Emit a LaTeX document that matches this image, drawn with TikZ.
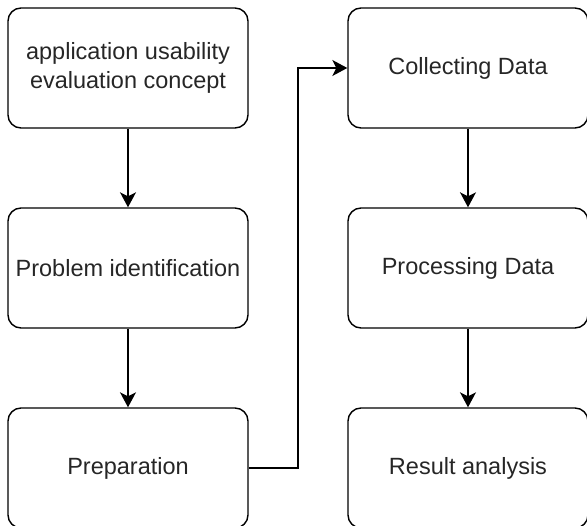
\documentclass[tikz,border=0pt]{standalone}
\usepackage{fontspec}
\setmainfont{Liberation Sans}
\usetikzlibrary{arrows.meta}
\begin{document}
\begin{tikzpicture}[x=1pt,y=1pt,
  box/.style={draw=black, line width=1.4pt, rounded corners=13pt, minimum width=240pt, minimum height=120pt, inner sep=0pt, align=center, font=\fontsize{23.5}{29}\selectfont, text=black!85},
  conn/.style={draw=black, line width=1.4pt, -{Stealth[length=15pt,width=16pt,inset=4pt]}}]
\useasboundingbox (0,0) rectangle (587,-526);
\clip (0,0) rectangle (587,-526);
\node[box] (concept) at (128,-68) {application usability\\evaluation concept};
\node[box] (problem) at (128,-268) {Problem identification};
\node[box] (prep) at (128,-468) {Preparation};
\node[box] (collect) at (468,-68) {Collecting Data};
\node[box] (process) at (468,-268) {Processing Data};
\node[box] (result) at (468,-468) {Result analysis};
\coordinate (bend) at (298,-468);
\draw[conn] (concept) -- (problem);
\draw[conn] (problem) -- (prep);
\draw[conn] (prep.east) -- (bend) |- (collect.west);
\draw[conn] (collect) -- (process);
\draw[conn] (process) -- (result);
\end{tikzpicture}
\end{document}
